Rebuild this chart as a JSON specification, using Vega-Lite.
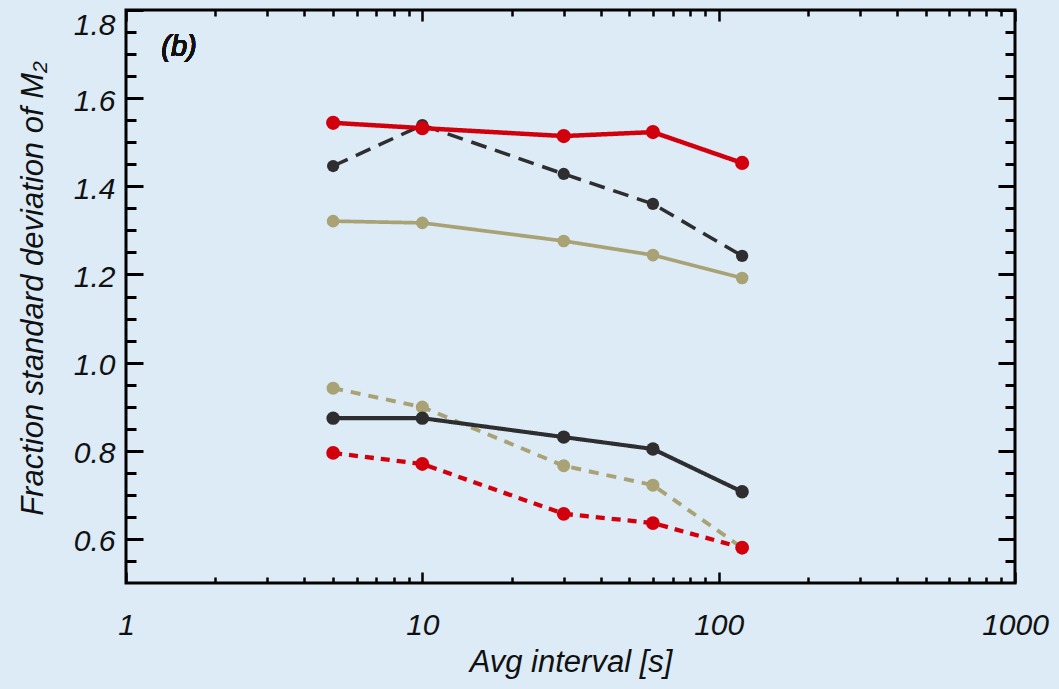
{
  "$schema": "https://vega.github.io/schema/vega-lite/v6.json",
  "width": 889,
  "height": 573,
  "autosize": "none",
  "padding": {"left": 126, "top": 10, "right": 44, "bottom": 106},
  "background": "#dcebf6",
  "config": {
    "view": {"stroke": "#000000", "strokeWidth": 3, "fill": "#dcebf6"},
    "axis": {
      "grid": false,
      "domain": false,
      "tickColor": "#000000",
      "labelFont": "Liberation Sans",
      "labelFontStyle": "italic",
      "labelFontWeight": "normal",
      "labelFontSize": 30,
      "labelColor": "#111111",
      "labelOverlap": false,
      "labelBound": false,
      "labelFlush": false,
      "titleFont": "Liberation Sans",
      "titleFontStyle": "italic",
      "titleFontWeight": "normal",
      "titleFontSize": 31,
      "titleColor": "#111111"
    }
  },
  "data": {
    "values": [
      {"interval": 5, "value": 1.446, "series": "black dashed"},
      {"interval": 10, "value": 1.539, "series": "black dashed"},
      {"interval": 30, "value": 1.428, "series": "black dashed"},
      {"interval": 60, "value": 1.360, "series": "black dashed"},
      {"interval": 120, "value": 1.242, "series": "black dashed"},
      {"interval": 5, "value": 1.321, "series": "tan solid"},
      {"interval": 10, "value": 1.317, "series": "tan solid"},
      {"interval": 30, "value": 1.276, "series": "tan solid"},
      {"interval": 60, "value": 1.244, "series": "tan solid"},
      {"interval": 120, "value": 1.192, "series": "tan solid"},
      {"interval": 5, "value": 0.942, "series": "tan dashed"},
      {"interval": 10, "value": 0.899, "series": "tan dashed"},
      {"interval": 30, "value": 0.766, "series": "tan dashed"},
      {"interval": 60, "value": 0.722, "series": "tan dashed"},
      {"interval": 120, "value": 0.580, "series": "tan dashed"},
      {"interval": 5, "value": 0.874, "series": "black solid"},
      {"interval": 10, "value": 0.874, "series": "black solid"},
      {"interval": 30, "value": 0.831, "series": "black solid"},
      {"interval": 60, "value": 0.804, "series": "black solid"},
      {"interval": 120, "value": 0.707, "series": "black solid"},
      {"interval": 5, "value": 0.795, "series": "red dashed"},
      {"interval": 10, "value": 0.770, "series": "red dashed"},
      {"interval": 30, "value": 0.657, "series": "red dashed"},
      {"interval": 60, "value": 0.636, "series": "red dashed"},
      {"interval": 120, "value": 0.580, "series": "red dashed"},
      {"interval": 5, "value": 1.544, "series": "red solid"},
      {"interval": 10, "value": 1.532, "series": "red solid"},
      {"interval": 30, "value": 1.514, "series": "red solid"},
      {"interval": 60, "value": 1.523, "series": "red solid"},
      {"interval": 120, "value": 1.453, "series": "red solid"}
    ]
  },
  "layer": [
    {
      "mark": {"type": "line"},
      "encoding": {
        "x": {
          "field": "interval",
          "type": "quantitative",
          "scale": {"type": "log", "domain": [1, 1000], "nice": false},
          "axis": {
            "values": [1, 2, 3, 4, 5, 6, 7, 8, 9, 10, 20, 30, 40, 50, 60, 70, 80, 90, 100, 200, 300, 400, 500, 600, 700, 800, 900, 1000],
            "labelExpr": "abs(log(datum.value)/LN10 - round(log(datum.value)/LN10)) < 0.001 ? format(datum.value, 'd') : ''",
            "tickSize": {"condition": {"test": "abs(log(datum.value)/LN10 - round(log(datum.value)/LN10)) < 0.001", "value": -11}, "value": -6},
            "tickWidth": 2.5,
            "labelPadding": 38,
            "title": "Avg interval [s]",
            "titleY": 88,
            "titleBaseline": "alphabetic"
          }
        },
        "y": {
          "field": "value",
          "type": "quantitative",
          "scale": {"domain": [0.5, 1.8], "nice": false, "zero": false},
          "axis": {
            "values": [0.55, 0.6, 0.65, 0.7, 0.75, 0.8, 0.85, 0.9, 0.95, 1.0, 1.05, 1.1, 1.15, 1.2, 1.25, 1.3, 1.35, 1.4, 1.45, 1.5, 1.55, 1.6, 1.65, 1.7, 1.75, 1.8],
            "labelExpr": "abs(datum.value*5 - round(datum.value*5)) < 0.01 ? format(datum.value, '.1f') : ''",
            "tickSize": {"condition": {"test": "abs(datum.value*5 - round(datum.value*5)) < 0.01", "value": -17}, "value": -10},
            "labelOffset": {"condition": {"test": "datum.value > 1.79", "value": 15}, "value": 3},
            "tickWidth": 3,
            "labelPadding": 28,
            "title": "Fraction standard deviation of M₂",
            "titleX": -93,
            "titleY": 278,
            "titleAngle": -90,
            "titleBaseline": "middle",
            "titleAlign": "center"
          }
        },
        "color": {
          "field": "series",
          "type": "nominal",
          "legend": null,
          "scale": {
            "domain": ["black dashed", "tan solid", "tan dashed", "black solid", "red dashed", "red solid"],
            "range": ["#2e2e30", "#a8a275", "#a8a275", "#2e2e30", "#d2000d", "#d2000d"]
          }
        },
        "strokeDash": {
          "field": "series",
          "type": "nominal",
          "legend": null,
          "scale": {
            "domain": ["black dashed", "tan solid", "tan dashed", "black solid", "red dashed", "red solid"],
            "range": [[16, 9], [1, 0], [10, 8], [1, 0], [9, 7], [1, 0]]
          }
        },
        "strokeWidth": {
          "field": "series",
          "type": "nominal",
          "legend": null,
          "scale": {
            "domain": ["black dashed", "tan solid", "tan dashed", "black solid", "red dashed", "red solid"],
            "range": [3.5, 4.5, 4.5, 3.5, 4.5, 5]
          }
        }
      }
    },
    {
      "mark": {"type": "circle", "opacity": 1},
      "encoding": {
        "x": {"field": "interval", "type": "quantitative", "axis": null},
        "y": {"field": "value", "type": "quantitative", "axis": null},
        "color": {"field": "series", "type": "nominal", "legend": null},
        "size": {
          "field": "series",
          "type": "nominal",
          "legend": null,
          "scale": {
            "domain": ["black dashed", "tan solid", "tan dashed", "black solid", "red dashed", "red solid"],
            "range": [150, 200, 200, 150, 220, 220]
          }
        }
      }
    },
    {
      "mark": {"type": "point", "opacity": 0},
      "encoding": {
        "x": {
          "field": "interval",
          "type": "quantitative",
          "axis": {
            "orient": "top",
            "values": [1, 2, 3, 4, 5, 6, 7, 8, 9, 10, 20, 30, 40, 50, 60, 70, 80, 90, 100, 200, 300, 400, 500, 600, 700, 800, 900, 1000],
            "labels": false,
            "title": null,
            "tickSize": {"condition": {"test": "abs(log(datum.value)/LN10 - round(log(datum.value)/LN10)) < 0.001", "value": -11}, "value": -6},
            "tickWidth": 2.5
          }
        },
        "y": {
          "field": "value",
          "type": "quantitative",
          "axis": {
            "orient": "right",
            "values": [0.55, 0.6, 0.65, 0.7, 0.75, 0.8, 0.85, 0.9, 0.95, 1.0, 1.05, 1.1, 1.15, 1.2, 1.25, 1.3, 1.35, 1.4, 1.45, 1.5, 1.55, 1.6, 1.65, 1.7, 1.75, 1.8],
            "labels": false,
            "title": null,
            "tickSize": {"condition": {"test": "abs(datum.value*5 - round(datum.value*5)) < 0.01", "value": -17}, "value": -10},
            "tickWidth": 3
          }
        }
      }
    },
    {
      "mark": {"type": "text", "font": "Liberation Sans", "fontStyle": "italic", "fontWeight": "normal", "fontSize": 29, "fill": "#111111", "stroke": null, "align": "center", "baseline": "middle"},
      "encoding": {
        "x": {"datum": 1.51, "type": "quantitative", "axis": null},
        "y": {"datum": 1.716, "type": "quantitative", "axis": null},
        "text": {"value": "(b)"}
      }
    }
  ],
  "resolve": {"axis": {"x": "independent", "y": "independent"}}
}
